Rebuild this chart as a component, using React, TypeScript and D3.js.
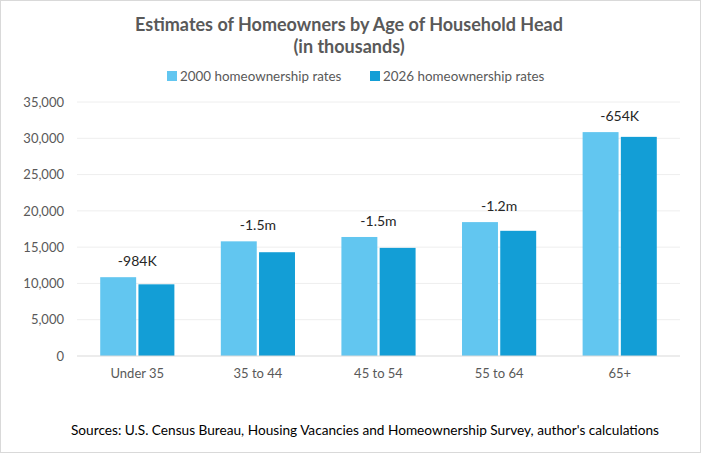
import { useRef, useEffect } from "react";
import * as d3 from "d3";

const categories = ["Under 35", "35 to 44", "45 to 54", "55 to 64", "65+"];
const series = ["2000 homeownership rates", "2026 homeownership rates"];
const rates2000 = [10860, 15800, 16400, 18450, 30850];
const rates2026 = [9876, 14300, 14900, 17250, 30196];
const diffLabels = ["-984K", "-1.5m", "-1.5m", "-1.2m", "-654K"];
const yTicks = [0, 5000, 10000, 15000, 20000, 25000, 30000, 35000];

const colors = ["#62C6F0", "#139ED6"];
const FONT = "Lato, 'Open Sans', sans-serif";

export default function App() {
  const svgRef = useRef<SVGSVGElement>(null);
  const width = 701;
  const height = 453;

  useEffect(() => {
    const svg = d3.select(svgRef.current);
    svg.selectAll("*").remove();

    const margin = { top: 102, right: 21, bottom: 97, left: 77 };
    const innerWidth = width - margin.left - margin.right;
    const innerHeight = height - margin.top - margin.bottom;

    // frame
    svg.append("rect")
      .attr("x", 0.5).attr("y", 0.5)
      .attr("width", width - 1).attr("height", height - 1)
      .attr("fill", "#fff").attr("stroke", "#d9d9d9");

    // title
    const title = svg.append("text")
      .attr("text-anchor", "middle")
      .attr("font-family", FONT)
      .attr("font-weight", "bold")
      .attr("font-size", 18)
      .attr("fill", "#595959");
    title.append("tspan").attr("x", 349).attr("y", 31)
      .text("Estimates of Homeowners by Age of Household Head");
    title.append("tspan").attr("x", 349).attr("y", 53).text("(in thousands)");

    // legend
    const legendX = [167, 370];
    series.forEach((s, i) => {
      const lg = svg.append("g").attr("transform", `translate(${legendX[i]},71)`);
      lg.append("rect").attr("width", 10).attr("height", 10).attr("fill", colors[i]);
      lg.append("text")
        .attr("x", 13).attr("y", 9.5)
        .attr("font-family", FONT).attr("font-size", 13.4)
        .attr("fill", "#595959")
        .text(s);
    });

    const g = svg.append("g").attr("transform", `translate(${margin.left},${margin.top})`);

    const x0 = d3.scaleBand().domain(categories).range([0, innerWidth]).paddingInner(0.385).paddingOuter(0.1925);
    const x1 = d3.scaleBand().domain(series).range([0, x0.bandwidth()]).paddingInner(0.06);
    const y = d3.scaleLinear().domain([0, 35000]).range([innerHeight, 0]);

    // gridlines
    g.append("g")
      .selectAll("line")
      .data(yTicks.filter((t) => t > 0))
      .enter()
      .append("line")
      .attr("x1", 0).attr("x2", innerWidth)
      .attr("y1", (d) => y(d)).attr("y2", (d) => y(d))
      .attr("stroke", "#eeeeee").attr("stroke-width", 1);

    // y axis labels
    const yAxis = d3.axisLeft(y).tickValues(yTicks).tickFormat(d3.format(",")).tickSize(0).tickPadding(13);
    const ya = g.append("g").call(yAxis);
    ya.select(".domain").remove();
    ya.selectAll("text").attr("font-family", FONT).attr("font-size", 13).attr("fill", "#595959");

    // bars
    const groups = g.selectAll(".grp")
      .data(categories)
      .enter()
      .append("g")
      .attr("transform", (d) => `translate(${x0(d)},0)`);

    [rates2000, rates2026].forEach((vals, si) => {
      groups.append("rect")
        .attr("x", x1(series[si])!)
        .attr("width", x1.bandwidth())
        .attr("y", (_, i) => y(vals[i]))
        .attr("height", (_, i) => innerHeight - y(vals[i]))
        .attr("fill", colors[si]);
    });

    // difference labels
    groups.append("text")
      .attr("x", x0.bandwidth() / 2)
      .attr("y", (_, i) => y(Math.max(rates2000[i], rates2026[i])) - 11)
      .attr("text-anchor", "middle")
      .attr("font-family", FONT).attr("font-size", 14)
      .attr("fill", "#262626")
      .text((_, i) => diffLabels[i]);

    // baseline
    g.append("line")
      .attr("x1", 0).attr("x2", innerWidth)
      .attr("y1", innerHeight).attr("y2", innerHeight)
      .attr("stroke", "#d9d9d9").attr("stroke-width", 1);

    // x axis labels
    const xAxis = d3.axisBottom(x0).tickSize(0).tickPadding(13);
    const xa = g.append("g").attr("transform", `translate(0,${innerHeight})`).call(xAxis);
    xa.select(".domain").remove();
    xa.selectAll("text").attr("font-family", FONT).attr("font-size", 13).attr("fill", "#595959");

    // source note
    svg.append("text")
      .attr("x", 365).attr("y", 435)
      .attr("text-anchor", "middle")
      .attr("font-family", FONT).attr("font-size", 14)
      .attr("fill", "#000")
      .attr("textLength", 588)
      .attr("lengthAdjust", "spacingAndGlyphs")
      .text("Sources: U.S. Census Bureau, Housing Vacancies and Homeownership Survey, author's calculations");
  }, []);

  return (
    <svg
      ref={svgRef}
      width={width}
      height={height}
      style={{ position: "absolute", left: 0, top: 0, display: "block" }}
    ></svg>
  );
}
